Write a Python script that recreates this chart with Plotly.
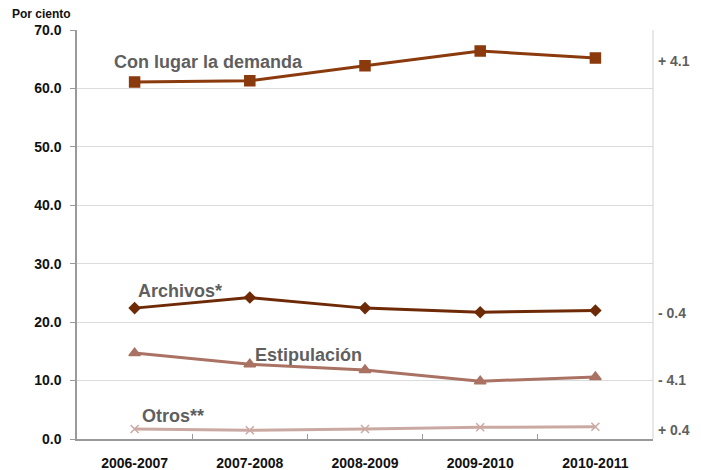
import plotly.graph_objects as go

# School years on the x axis
years = ["2006-2007", "2007-2008", "2008-2009", "2009-2010", "2010-2011"]

# Share of resolved cases by outcome (percent)
con_lugar = [61.1, 61.3, 63.9, 66.4, 65.2]
archivos = [22.4, 24.2, 22.4, 21.7, 22.0]
estipulacion = [14.7, 12.8, 11.8, 9.9, 10.6]
otros = [1.7, 1.5, 1.7, 2.0, 2.1]

y_ticks = [0, 10, 20, 30, 40, 50, 60, 70]

FONT = "Liberation Sans Narrow, Arial Narrow, Liberation Sans, Arial, sans-serif"
LABEL_GREY = "#5f5f5f"

series = [
    # name, values, colour, marker symbol, marker size, label x, label y
    ("Con lugar la demanda", con_lugar, "#8a3a0c", "square", 10, -0.2, 64.6),
    ("Archivos*", archivos, "#6e2a06", "diamond", 8, 0.01, 25.4),
    ("Estipulación", estipulacion, "#a97263", "triangle-up", 10, 1.03, 14.3),
    ("Otros**", otros, "#cba9a3", "x-thin-open", 8, 0.05, 4.0),
]

fig = go.Figure()
annotations = []
for name, vals, color, symbol, msize, lx, ly in series:
    fig.add_trace(go.Scatter(
        x=years, y=vals, mode="lines+markers", name=name,
        line=dict(color=color, width=3),
        marker=dict(symbol=symbol, size=msize, color=color,
                    line=dict(color=color, width=1.5)),
        showlegend=False, hoverinfo="x+y+name",
    ))
    annotations.append(dict(
        x=lx, y=ly, xref="x", yref="y", text=name, showarrow=False,
        xanchor="left", yanchor="middle",
        font=dict(family=FONT, size=18, color=LABEL_GREY, weight="bold"),
    ))
    # change between the first and last school year
    diff = round(vals[-1] - vals[0], 1)
    sign = "+" if diff >= 0 else "-"
    annotations.append(dict(
        x=1.0, y=vals[-1], xref="paper", yref="y",
        text=f"{sign} {abs(diff):.1f}", showarrow=False,
        xanchor="left", yanchor="middle", xshift=3, yshift=-3,
        font=dict(family=FONT, size=14, color=LABEL_GREY, weight="bold"),
    ))

# unit label above the y axis
annotations.append(dict(
    x=-67 / 576, y=1.0, xref="paper", yref="paper", text="Por ciento",
    showarrow=False, xanchor="left", yanchor="bottom", yshift=7,
    font=dict(family=FONT, size=12, color="#111111", weight="bold"),
))

fig.update_layout(
    width=701, height=470,
    margin=dict(l=77, r=48, t=30, b=31),
    paper_bgcolor="white", plot_bgcolor="white",
    annotations=annotations,
    font=dict(family=FONT),
)
fig.update_xaxes(
    type="category", range=[-0.5, 4.5], automargin=False,
    showline=True, linecolor="#9a9a9a", linewidth=1.5, mirror=False,
    ticks="inside", tickson="boundaries", ticklen=5, tickcolor="#9a9a9a",
    showgrid=False, ticklabelstandoff=10,
    tickfont=dict(family=FONT, size=14, color="#111111", weight="bold"),
)
fig.update_yaxes(
    range=[0, 70], tickvals=y_ticks, tickformat=".1f", automargin=False,
    showline=True, linecolor="#9a9a9a", linewidth=1.5, mirror=False,
    ticks="outside", ticklen=5, tickcolor="#9a9a9a",
    showgrid=True, gridcolor="#dcdcdc", gridwidth=1,
    ticklabelstandoff=6, zeroline=False,
    tickfont=dict(family=FONT, size=14, color="#111111", weight="bold"),
)
# light frame on the right-hand side of the plot area
fig.add_shape(type="line", xref="paper", yref="paper", x0=1, x1=1, y0=0, y1=1,
              line=dict(color="#d0d0d0", width=1))

fig.write_html("out.html")
